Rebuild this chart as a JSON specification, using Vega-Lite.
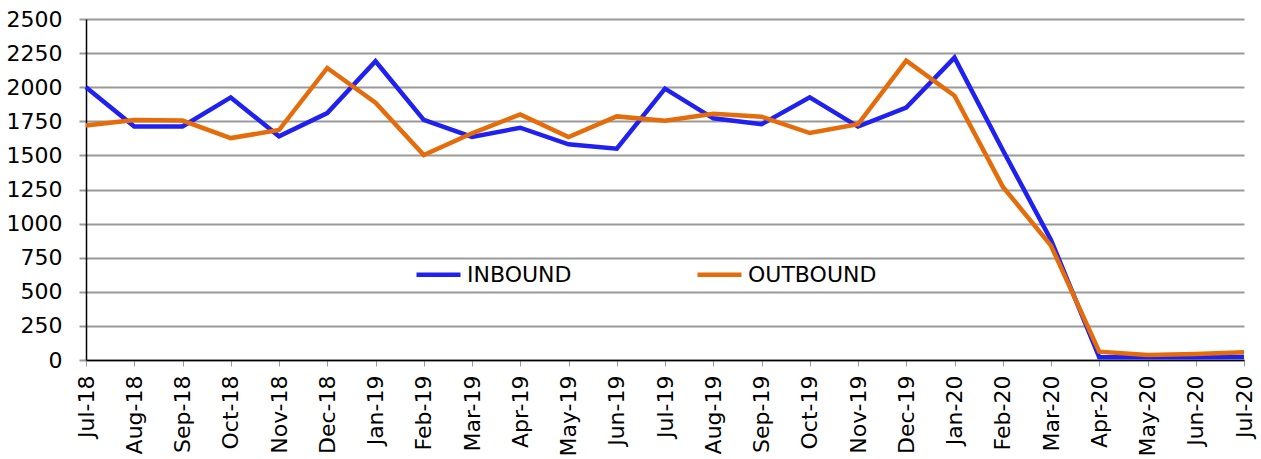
{
  "$schema": "https://vega.github.io/schema/vega-lite/v6.json",
  "autosize": {"type": "none"},
  "padding": {"left": 86, "top": 19, "right": 17, "bottom": 99},
  "width": 1158,
  "height": 341,
  "background": "white",
  "config": {
    "view": {"stroke": null},
    "font": "DejaVu Sans"
  },
  "data": {
    "values": [
      {"month": "Jul-18", "series": "INBOUND", "value": 2000},
      {"month": "Aug-18", "series": "INBOUND", "value": 1712},
      {"month": "Sep-18", "series": "INBOUND", "value": 1712},
      {"month": "Oct-18", "series": "INBOUND", "value": 1925},
      {"month": "Nov-18", "series": "INBOUND", "value": 1640},
      {"month": "Dec-18", "series": "INBOUND", "value": 1810},
      {"month": "Jan-19", "series": "INBOUND", "value": 2190},
      {"month": "Feb-19", "series": "INBOUND", "value": 1760},
      {"month": "Mar-19", "series": "INBOUND", "value": 1635},
      {"month": "Apr-19", "series": "INBOUND", "value": 1703},
      {"month": "May-19", "series": "INBOUND", "value": 1581},
      {"month": "Jun-19", "series": "INBOUND", "value": 1549},
      {"month": "Jul-19", "series": "INBOUND", "value": 1989},
      {"month": "Aug-19", "series": "INBOUND", "value": 1772},
      {"month": "Sep-19", "series": "INBOUND", "value": 1728},
      {"month": "Oct-19", "series": "INBOUND", "value": 1926},
      {"month": "Nov-19", "series": "INBOUND", "value": 1711},
      {"month": "Dec-19", "series": "INBOUND", "value": 1850},
      {"month": "Jan-20", "series": "INBOUND", "value": 2217},
      {"month": "Feb-20", "series": "INBOUND", "value": 1540},
      {"month": "Mar-20", "series": "INBOUND", "value": 880},
      {"month": "Apr-20", "series": "INBOUND", "value": 20},
      {"month": "May-20", "series": "INBOUND", "value": 20},
      {"month": "Jun-20", "series": "INBOUND", "value": 20},
      {"month": "Jul-20", "series": "INBOUND", "value": 22},
      {"month": "Jul-18", "series": "OUTBOUND", "value": 1720},
      {"month": "Aug-18", "series": "OUTBOUND", "value": 1760},
      {"month": "Sep-18", "series": "OUTBOUND", "value": 1755},
      {"month": "Oct-18", "series": "OUTBOUND", "value": 1627},
      {"month": "Nov-18", "series": "OUTBOUND", "value": 1686},
      {"month": "Dec-18", "series": "OUTBOUND", "value": 2141},
      {"month": "Jan-19", "series": "OUTBOUND", "value": 1887},
      {"month": "Feb-19", "series": "OUTBOUND", "value": 1503},
      {"month": "Mar-19", "series": "OUTBOUND", "value": 1662},
      {"month": "Apr-19", "series": "OUTBOUND", "value": 1801},
      {"month": "May-19", "series": "OUTBOUND", "value": 1635},
      {"month": "Jun-19", "series": "OUTBOUND", "value": 1786},
      {"month": "Jul-19", "series": "OUTBOUND", "value": 1755},
      {"month": "Aug-19", "series": "OUTBOUND", "value": 1806},
      {"month": "Sep-19", "series": "OUTBOUND", "value": 1784},
      {"month": "Oct-19", "series": "OUTBOUND", "value": 1664},
      {"month": "Nov-19", "series": "OUTBOUND", "value": 1728},
      {"month": "Dec-19", "series": "OUTBOUND", "value": 2195},
      {"month": "Jan-20", "series": "OUTBOUND", "value": 1938},
      {"month": "Feb-20", "series": "OUTBOUND", "value": 1271},
      {"month": "Mar-20", "series": "OUTBOUND", "value": 838},
      {"month": "Apr-20", "series": "OUTBOUND", "value": 61},
      {"month": "May-20", "series": "OUTBOUND", "value": 37},
      {"month": "Jun-20", "series": "OUTBOUND", "value": 44},
      {"month": "Jul-20", "series": "OUTBOUND", "value": 56}
    ]
  },
  "mark": {"type": "line", "strokeWidth": 4.5, "strokeJoin": "miter"},
  "encoding": {
    "x": {
      "field": "month",
      "type": "nominal",
      "sort": null,
      "scale": {"type": "point", "padding": 0},
      "axis": {
        "title": null,
        "labelAngle": -90,
        "labelAlign": "right",
        "labelBaseline": "middle",
        "labelFontSize": 22,
        "labelColor": "black",
        "labelPadding": 9,
        "tickColor": "#999999",
        "tickSize": 6,
        "domainColor": "black",
        "domainWidth": 1.5,
        "grid": false
      }
    },
    "y": {
      "field": "value",
      "type": "quantitative",
      "scale": {"domain": [0, 2500], "nice": false},
      "axis": {
        "title": null,
        "format": "d",
        "values": [0, 250, 500, 750, 1000, 1250, 1500, 1750, 2000, 2250, 2500],
        "labelFontSize": 22,
        "labelColor": "black",
        "labelPadding": 17,
        "tickColor": "#999999",
        "tickSize": 7,
        "tickWidth": 2,
        "grid": true,
        "gridColor": "#999999",
        "gridWidth": 2,
        "gridOpacity": 1,
        "domainColor": "black",
        "domainWidth": 1.5
      }
    },
    "color": {
      "field": "series",
      "type": "nominal",
      "scale": {"domain": ["INBOUND", "OUTBOUND"], "range": ["#2020f0", "#e46c0a"]},
      "legend": {
        "title": null,
        "orient": "none",
        "legendX": 328,
        "legendY": 231,
        "direction": "horizontal",
        "symbolType": "stroke",
        "symbolSize": 1936,
        "symbolStrokeWidth": 4.5,
        "labelFontSize": 22,
        "labelColor": "black",
        "labelOffset": 4,
        "columnPadding": 116,
        "padding": 0
      }
    }
  }
}
